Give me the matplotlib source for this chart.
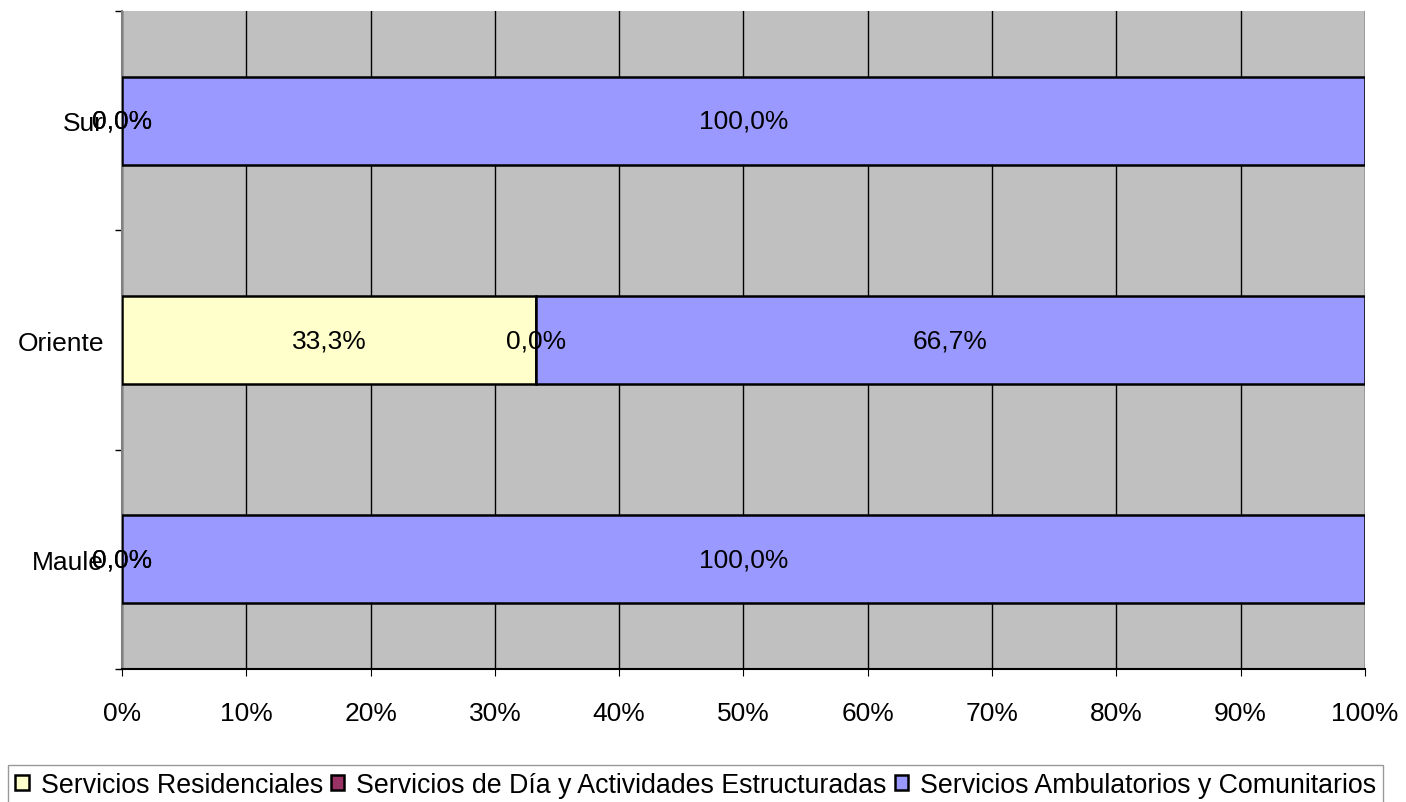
import matplotlib.pyplot as plt
from matplotlib.ticker import MultipleLocator, FuncFormatter

plt.rcParams['font.family'] = ['Liberation Sans', 'DejaVu Sans']

# data (percent of each region's services)
regions = ["Maule", "Oriente", "Sur"]
series_names = ["Servicios Residenciales",
                "Servicios de Día y Actividades Estructuradas",
                "Servicios Ambulatorios y Comunitarios"]
residenciales = [0.0, 33.3, 0.0]
dia = [0.0, 0.0, 0.0]
ambulatorios = [100.0, 66.7, 100.0]
colors = ["#FFFFCC", "#993366", "#9999FF"]

fig = plt.figure(figsize=(14.06, 8.03), dpi=100)
ax = fig.add_axes([0.0868, 0.1656, 0.8840, 0.8194])
ax.set_facecolor("#C0C0C0")

ypos = range(len(regions))
left = [0.0] * len(regions)
for vals, name, col in zip([residenciales, dia, ambulatorios], series_names, colors):
    ax.barh(ypos, vals, left=left, height=0.4, color=col, edgecolor="black",
            linewidth=1.8, label=name, zorder=3)
    for y, l, v in zip(ypos, left, vals):
        ax.text(l + v / 2, y, f"{v:.1f}%".replace(".", ","), ha="center",
                va="center", fontsize=19, zorder=5)
    left = [a + b for a, b in zip(left, vals)]

ax.set_xlim(0, 100)
ax.set_ylim(-0.5, 2.5)
ax.xaxis.set_major_locator(MultipleLocator(10))
ax.xaxis.set_major_formatter(FuncFormatter(lambda v, p: f"{v:.0f}%"))
ax.grid(axis="x", color="black", linewidth=1, zorder=0)
ax.set_axisbelow(True)

ax.set_yticks(list(ypos))
ax.set_yticklabels(regions)
ax.set_yticks([-0.5, 0.5, 1.5, 2.5], minor=True)
ax.tick_params(axis="y", which="major", length=0, labelsize=19, pad=13)
ax.tick_params(axis="y", which="minor", length=5, width=1)
ax.tick_params(axis="x", labelsize=19, length=5, pad=18)

for s in ["top", "right"]:
    ax.spines[s].set_visible(False)
ax.spines["left"].set_color("#808080")
ax.spines["left"].set_linewidth(1.5)
ax.spines["bottom"].set_linewidth(1.5)

leg = fig.legend(loc="lower left", bbox_to_anchor=(0.006, -0.003), ncol=3,
                 fontsize=19.3, frameon=True, fancybox=False, edgecolor="#808080",
                 handlelength=0.5, handleheight=0.5, handletextpad=0.45,
                 columnspacing=0.3, borderpad=0.25, borderaxespad=0)
leg.get_frame().set_linewidth(1)

fig.savefig("out.png", dpi=100)
